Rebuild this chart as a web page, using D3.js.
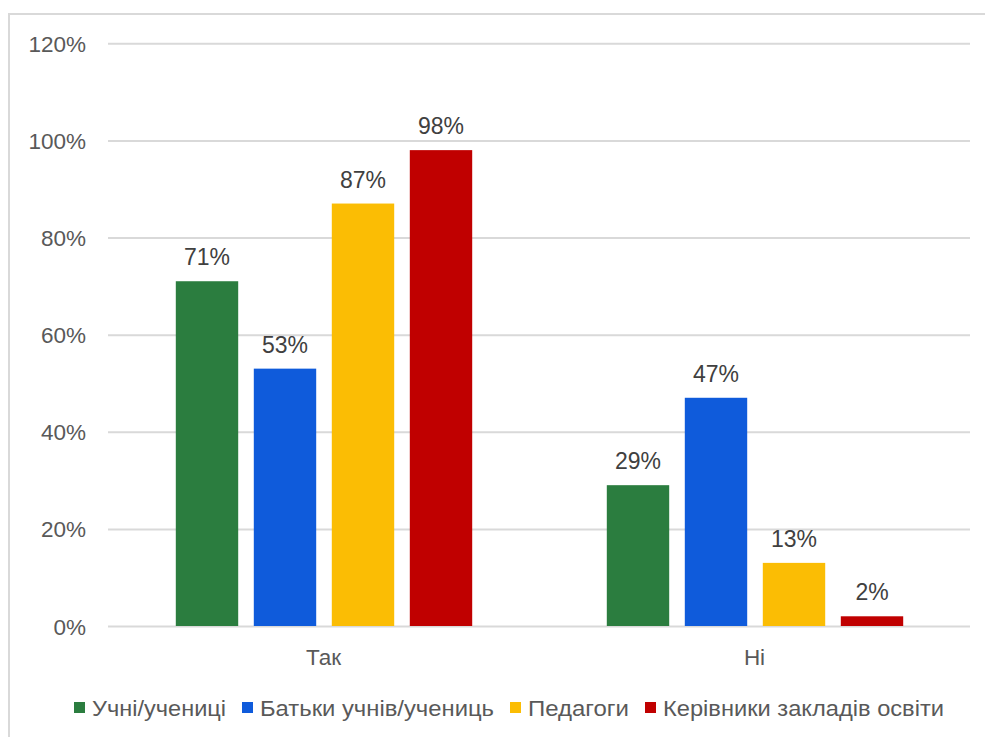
<!DOCTYPE html>
<html>
<head>
<meta charset="utf-8">
<script src="https://cdn.jsdelivr.net/npm/d3@7"></script>
<style>
  html, body { margin: 0; padding: 0; background: #ffffff; }
  svg { display: block; }
  text { font-family: "Liberation Sans", Arial, sans-serif; }
</style>
</head>
<body>
<svg id="chart" width="985" height="737"></svg>
<script>
// ---- data ----
const categories = ["Так", "Ні"];
const seriesNames = ["Учні/учениці", "Батьки учнів/учениць", "Педагоги", "Керівники закладів освіти"];
const seriesColors = ["#2b7d3f", "#0f5bdb", "#fbbd04", "#c00000"];
const valuesPupils = [0.71, 0.29];
const valuesParents = [0.53, 0.47];
const valuesTeachers = [0.87, 0.13];
const valuesHeads = [0.98, 0.02];
const yTicks = [0, 0.2, 0.4, 0.6, 0.8, 1.0, 1.2];

const seriesValues = [valuesPupils, valuesParents, valuesTeachers, valuesHeads];

// ---- layout ----
const svg = d3.select("#chart");
const plot = { left: 108, right: 970, top: 43.3, bottom: 626 };
const legendTextWidths = [134, 234, 101, 281];

// frame (cropped chart border)
svg.append("path")
  .attr("d", `M9,737 L9,14 L985,14`)
  .attr("fill", "none")
  .attr("stroke", "#d9d9d9")
  .attr("stroke-width", 2);

const y = d3.scaleLinear().domain([0, 1.2]).range([plot.bottom, plot.top]);
const x0 = d3.scaleBand().domain(categories).range([plot.left, plot.right]).padding(0);
const groupSpan = 312;
const x1 = d3.scaleBand().domain(seriesNames)
  .range([(x0.bandwidth() - groupSpan) / 2 + 0.5, (x0.bandwidth() + groupSpan) / 2 + 0.5])
  .paddingInner(0.2).paddingOuter(0.1);

// gridlines
const yAxis = d3.axisLeft(y).tickValues(yTicks)
  .tickSize(-(plot.right - plot.left))
  .tickFormat(d3.format(".0%"))
  .tickPadding(22);
const gy = svg.append("g").attr("transform", `translate(${plot.left},0)`).call(yAxis);
gy.select(".domain").remove();
gy.selectAll(".tick line").attr("stroke", "#d9d9d9").attr("stroke-width", 2);
gy.selectAll(".tick text")
  .attr("fill", "#595959")
  .style("font-size", "22.5px")
  .attr("dy", "0.36em");

// bars
const groups = svg.append("g").selectAll("g")
  .data(categories)
  .join("g")
  .attr("transform", d => `translate(${x0(d)},0)`);

groups.selectAll("rect")
  .data((c, ci) => seriesNames.map((s, si) => ({ s, si, v: seriesValues[si][ci] })))
  .join("rect")
  .attr("x", d => x1(d.s))
  .attr("y", d => y(d.v))
  .attr("width", x1.bandwidth())
  .attr("height", d => y(0) - y(d.v))
  .attr("fill", d => seriesColors[d.si]);

groups.selectAll("text.val")
  .data((c, ci) => seriesNames.map((s, si) => ({ s, si, v: seriesValues[si][ci] })))
  .join("text")
  .attr("class", "val")
  .attr("x", d => x1(d.s) + x1.bandwidth() / 2)
  .attr("y", d => y(d.v) - 16)
  .attr("text-anchor", "middle")
  .attr("fill", "#404040")
  .style("font-size", "23px")
  .text(d => d3.format(".0%")(d.v));

// x axis labels
svg.append("g").selectAll("text")
  .data(categories)
  .join("text")
  .attr("x", d => x0(d) + x0.bandwidth() / 2)
  .attr("y", 665)
  .attr("text-anchor", "middle")
  .attr("fill", "#595959")
  .style("font-size", "22.5px")
  .text(d => d);

// legend
const sqGap = 7, itemGap = 16, sq = 11;
const legend = svg.append("g");
const items = legend.selectAll("g").data(seriesNames).join("g");
items.append("rect")
  .attr("width", sq).attr("height", sq)
  .attr("y", 702)
  .attr("fill", (d, i) => seriesColors[i]);
items.append("text")
  .attr("y", 716)
  .attr("fill", "#595959")
  .style("font-size", "22.5px")
  .attr("textLength", (d, i) => legendTextWidths[i])
  .attr("lengthAdjust", "spacingAndGlyphs")
  .text(d => d);
let cx = 74;
items.each(function (d, i) {
  const g = d3.select(this);
  g.select("rect").attr("x", cx);
  g.select("text").attr("x", cx + sq + sqGap);
  cx += sq + sqGap + legendTextWidths[i] + itemGap;
});
</script>
</body>
</html>
